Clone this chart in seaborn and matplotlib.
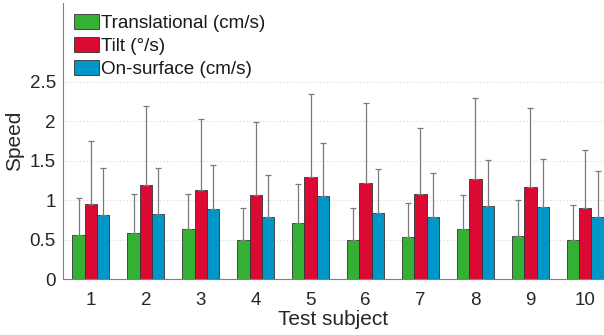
import matplotlib
matplotlib.use("Agg")
import matplotlib.pyplot as plt
import seaborn as sns
import numpy as np
import pandas as pd

subjects = ["1", "2", "3", "4", "5", "6", "7", "8", "9", "10"]
series = ["Translational (cm/s)", "Tilt (°/s)", "On-surface (cm/s)"]
translational = [0.56, 0.59, 0.63, 0.49, 0.71, 0.49, 0.53, 0.63, 0.55, 0.50]
tilt = [0.95, 1.19, 1.13, 1.07, 1.29, 1.22, 1.08, 1.27, 1.17, 0.90]
on_surface = [0.81, 0.83, 0.89, 0.79, 1.05, 0.84, 0.79, 0.93, 0.91, 0.79]
translational_top = [1.03, 1.08, 1.08, 0.90, 1.21, 0.90, 0.96, 1.06, 1.00, 0.94]
tilt_top = [1.75, 2.19, 2.03, 1.99, 2.35, 2.23, 1.91, 2.30, 2.17, 1.64]
on_surface_top = [1.41, 1.41, 1.45, 1.32, 1.73, 1.39, 1.34, 1.51, 1.52, 1.37]
colors = ["#34b034", "#dc0a32", "#0096c8"]
y_ticks = [0, 0.5, 1, 1.5, 2, 2.5]
y_tick_labels = ["0", "0.5", "1", "1.5", "2", "2.5"]

sns.set_theme(style="white")
plt.rcParams["font.family"] = ["Liberation Sans", "DejaVu Sans"]

values = [translational, tilt, on_surface]
tops = [translational_top, tilt_top, on_surface_top]
rows = []
for s, vals in zip(series, values):
    for subj, v in zip(subjects, vals):
        rows.append({"subject": subj, "series": s, "speed": v})
df = pd.DataFrame(rows)

fig = plt.figure(figsize=(6.04, 3.35), dpi=100)
ax = fig.add_axes([0.104, 0.167, 0.896, 0.824])

ax.yaxis.grid(True, linestyle=(0, (1, 2)), color="#d8d8d8", linewidth=0.8)
ax.set_axisbelow(True)

sns.barplot(data=df, x="subject", y="speed", hue="series", order=subjects,
            hue_order=series, palette=colors, width=0.67, errorbar=None,
            edgecolor="#333333", linewidth=0.6, saturation=1, ax=ax)

for cont, vals, tp in zip(ax.containers, values, tops):
    xs = [p.get_x() + p.get_width() / 2 for p in cont.patches]
    upper = np.array(tp) - np.array(vals)
    ax.errorbar(xs, vals, yerr=[np.zeros(len(vals)), upper], fmt="none",
                ecolor="#7a7a7a", elinewidth=0.9, capsize=2.2, capthick=0.9,
                zorder=1.5)

ax.set_xlim(-0.51, 9.34)
ax.set_ylim(0, 3.5)
ax.set_yticks(y_ticks)
ax.set_yticklabels(y_tick_labels)
ax.tick_params(axis="both", direction="in", length=3, width=0.6,
               color="#555555", labelsize=13.5, labelcolor="#262626")
ax.tick_params(axis="x", pad=9)
ax.tick_params(axis="y", pad=5)
ax.set_xlabel("Test subject", fontsize=15, color="#262626", labelpad=1)
ax.set_ylabel("Speed", fontsize=15, color="#262626", labelpad=4)

for side in ["top", "right"]:
    ax.spines[side].set_visible(False)
for side in ["left", "bottom"]:
    ax.spines[side].set_color("#808080")
    ax.spines[side].set_linewidth(0.8)

leg = ax.legend(loc="upper left", bbox_to_anchor=(0.0, 1.0), frameon=False,
                fontsize=13.6, handlelength=1.3, handleheight=0.85,
                handletextpad=0.1, labelspacing=0.26, borderaxespad=0.2)
for t in leg.get_texts():
    t.set_color("#1a1a1a")

fig.savefig("out.png", dpi=100)
